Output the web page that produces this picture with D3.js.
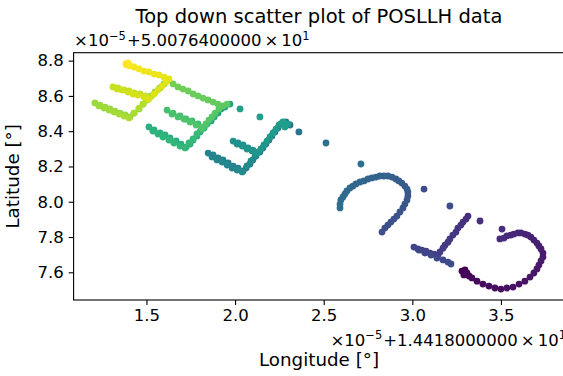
<!DOCTYPE html>
<html>
<head>
<meta charset="utf-8">
<script src="https://cdn.jsdelivr.net/npm/d3@7"></script>
<style>
  html, body { margin: 0; padding: 0; background: #fff; overflow: hidden; }
  svg { display: block; font-family: "DejaVu Sans", sans-serif; }
</style>
</head>
<body>
<svg id="chart" width="563" height="376"></svg>
<script>
// POSLLH track, values in units of 1e-5 degree relative to the base coordinates.
// Each array is one stretch of the walk, listed in time order.
const lonBase = "1.4418000000";   // x 10^1
const latBase = "5.0076400000";   // x 10^1

const loopG = [
  [3.280,7.607],[3.297,7.613],[3.308,7.596],[3.291,7.585],[3.320,7.579],[3.336,7.568],
  [3.365,7.550],[3.398,7.533],[3.432,7.522],[3.466,7.511],[3.500,7.505],[3.534,7.511],
  [3.568,7.516],[3.602,7.533],[3.635,7.550],[3.664,7.573],[3.686,7.596],[3.703,7.619],
  [3.714,7.641],[3.726,7.664],[3.737,7.687],[3.737,7.709],[3.726,7.732],[3.714,7.749],
  [3.703,7.766],[3.686,7.783],[3.669,7.800],[3.652,7.811],[3.635,7.817],[3.613,7.823],
  [3.596,7.823],[3.573,7.817],[3.556,7.811],[3.534,7.806],[3.517,7.794],[3.494,7.789]
];
const gapA = [[3.506,7.845],[3.382,7.891]];
const stemT = [
  [3.314,7.919],[3.303,7.902],[3.286,7.885],[3.274,7.868],[3.257,7.851],[3.246,7.828],
  [3.229,7.811],[3.212,7.789],[3.201,7.771],[3.184,7.754],[3.173,7.737],[3.156,7.715],
  [3.145,7.698]
];
const barT = [
  [3.122,7.703],[3.099,7.709],[3.077,7.720],[3.054,7.726],[3.032,7.732],[3.009,7.743],
  [3.037,7.726],[3.071,7.709],[3.105,7.698],[3.139,7.681],[3.173,7.670],[3.201,7.658],
  [3.218,7.647]
];
const gapB = [[3.212,7.976],[3.066,8.072]];
const arcC = [
  [2.829,7.828],[2.845,7.851],[2.862,7.868],[2.879,7.885],[2.896,7.902],[2.913,7.919],
  [2.930,7.942],[2.947,7.965],[2.958,7.987],[2.970,8.010],[2.975,8.033],[2.975,8.055],
  [2.970,8.072],[2.958,8.089],[2.941,8.106],[2.924,8.118],[2.907,8.129],[2.885,8.140],
  [2.862,8.146],[2.840,8.146],[2.817,8.146],[2.795,8.140],[2.772,8.135],[2.750,8.129],
  [2.727,8.118],[2.705,8.112],[2.682,8.101],[2.665,8.089],[2.648,8.078],[2.631,8.061],
  [2.620,8.044],[2.609,8.027],[2.597,8.010],[2.592,7.987],[2.592,7.965]
];
const gapC = [[2.710,8.214],[2.513,8.333],[2.360,8.396]];
const forkThree = [
  [2.310,8.435],[2.287,8.452],[2.259,8.441],
  [2.242,8.418],[2.225,8.396],[2.208,8.373],[2.191,8.350],[2.174,8.327],[2.157,8.305],
  [2.140,8.282],[2.118,8.259],[2.101,8.237],[2.084,8.214],[2.062,8.191],[2.045,8.174],
  [2.017,8.191],[1.989,8.202],[1.961,8.220],[1.932,8.237],[1.904,8.248],[1.876,8.265],[1.848,8.276],
  [1.870,8.254],[1.898,8.237],[1.927,8.225],[1.955,8.208],[1.983,8.191],[2.011,8.180],[2.040,8.169],
  [2.067,8.203],[2.090,8.231],[2.113,8.259],[2.130,8.282],
  [2.101,8.293],[2.073,8.305],[2.045,8.322],[2.017,8.333],[1.989,8.344],
  [2.011,8.327],[2.040,8.316],[2.067,8.299],[2.096,8.288],[2.124,8.276],
  [2.146,8.299],[2.163,8.322],[2.180,8.344],[2.197,8.367],[2.214,8.390],[2.231,8.412],
  [2.248,8.435],[2.270,8.452],[2.298,8.441],[2.281,8.424]
];
const gapD = [[2.140,8.481],[2.028,8.526]];
const forkTwo = [
  [1.971,8.554],[1.943,8.537],[1.921,8.526],
  [1.904,8.503],[1.882,8.481],[1.865,8.458],[1.842,8.441],[1.825,8.418],[1.802,8.396],
  [1.785,8.373],[1.763,8.350],[1.746,8.327],[1.724,8.310],
  [1.695,8.327],[1.667,8.345],[1.633,8.362],[1.605,8.379],[1.577,8.390],[1.543,8.407],[1.514,8.424],
  [1.536,8.401],[1.565,8.384],[1.593,8.367],[1.627,8.350],[1.655,8.333],[1.689,8.316],[1.718,8.305],
  [1.740,8.333],[1.763,8.356],[1.785,8.384],[1.808,8.407],[1.825,8.424],
  [1.791,8.441],[1.757,8.458],[1.723,8.469],[1.689,8.486],[1.650,8.503],[1.616,8.520],
  [1.644,8.497],[1.678,8.481],[1.712,8.469],[1.746,8.452],[1.780,8.435],[1.813,8.418],
  [1.836,8.441],[1.853,8.463],[1.870,8.481],[1.887,8.503],[1.909,8.526],[1.932,8.543],[1.955,8.554]
];
const gapE = [
  [1.903,8.554],[1.876,8.565],[1.847,8.577],[1.819,8.588],[1.791,8.600],
  [1.763,8.611],[1.735,8.628],[1.706,8.639],[1.678,8.651],[1.650,8.668]
];
const forkOne = [
  [1.621,8.690],
  [1.599,8.668],[1.576,8.645],[1.548,8.622],[1.526,8.600],[1.503,8.577],[1.481,8.554],
  [1.458,8.526],[1.430,8.503],[1.407,8.481],
  [1.379,8.492],[1.351,8.503],[1.322,8.514],[1.294,8.526],[1.266,8.537],[1.238,8.548],[1.209,8.560],
  [1.232,8.543],[1.260,8.531],[1.289,8.520],[1.317,8.509],[1.345,8.497],[1.373,8.486],[1.401,8.475],
  [1.430,8.503],[1.458,8.531],[1.481,8.554],[1.503,8.577],[1.520,8.594],
  [1.492,8.600],[1.463,8.611],[1.430,8.617],[1.401,8.628],[1.373,8.634],[1.339,8.645],[1.311,8.651],
  [1.334,8.639],[1.362,8.634],[1.396,8.622],[1.424,8.611],[1.452,8.605],[1.486,8.594],[1.514,8.583],
  [1.543,8.611],[1.565,8.634],[1.588,8.656],[1.610,8.679],[1.627,8.696],
  [1.599,8.707],[1.571,8.719],[1.543,8.724],[1.514,8.736],[1.486,8.741],[1.458,8.753],
  [1.430,8.764],[1.407,8.770],[1.390,8.775],[1.384,8.781],[1.396,8.787]
];

const xTicks = [1.5, 2.0, 2.5, 3.0, 3.5];
const yTicks = [7.6, 7.8, 8.0, 8.2, 8.4, 8.6, 8.8];
const titleText = "Top down scatter plot of POSLLH data";
const xLabel = "Longitude [°]";
const yLabel = "Latitude [°]";

const track = [].concat(loopG, gapA, stemT, barT, gapB, arcC, gapC,
                        forkThree, gapD, forkTwo, gapE, forkOne);

// Layout
const svg = d3.select("#chart");
const box = { left: 73.6, right: 564.4, top: 52.7, bottom: 300 };
const x = d3.scaleLinear().domain([1.089, 3.858]).range([box.left, box.right]);
const y = d3.scaleLinear().domain([7.443, 8.845]).range([box.bottom, box.top]);
const color = d3.scaleSequential(d3.interpolateViridis).domain([0, track.length - 1]);

// Points, colored by sample index
svg.append("g")
  .selectAll("circle")
  .data(track)
  .join("circle")
  .attr("cx", d => x(d[0]))
  .attr("cy", d => y(d[1]))
  .attr("r", 3.4)
  .attr("fill", (d, i) => color(i));

// Axes
const tickFont = 16.5;
const xAxis = svg.append("g")
  .attr("transform", `translate(0,${box.bottom})`)
  .call(d3.axisBottom(x).tickValues(xTicks).tickFormat(d3.format(".1f"))
        .tickSize(4.9).tickPadding(4.5));
const yAxis = svg.append("g")
  .attr("transform", `translate(${box.left},0)`)
  .call(d3.axisLeft(y).tickValues(yTicks).tickFormat(d3.format(".1f"))
        .tickSize(4.9).tickPadding(4.9));
[xAxis, yAxis].forEach(g => {
  g.select(".domain").remove();
  g.selectAll("line").attr("stroke", "#000").attr("stroke-width", 1.1);
  g.selectAll("text").attr("fill", "#000").style("font-size", tickFont + "px")
    .style("font-family", "DejaVu Sans, sans-serif");
});

// Frame
svg.append("rect")
  .attr("x", box.left).attr("y", box.top)
  .attr("width", box.right - box.left).attr("height", box.bottom - box.top)
  .attr("fill", "none").attr("stroke", "#000").attr("stroke-width", 1.1);

// Offset notation text: ×10^-5 + base ×10^1
function offsetText(sel, base) {
  const sup = 11.5;
  sel.style("font-size", tickFont + "px").attr("fill", "#000");
  sel.append("tspan").text("×10");
  sel.append("tspan").attr("dy", -6.5).style("font-size", sup + "px").text("−5");
  sel.append("tspan").attr("dy", 6.5).attr("dx", 1).text("+" + base);
  sel.append("tspan").attr("dx", 3).text("×");
  sel.append("tspan").attr("dx", 3).text("10");
  sel.append("tspan").attr("dy", -6.5).style("font-size", sup + "px").text("1");
}
svg.append("text").attr("x", box.left + 0.5).attr("y", 46)
  .call(offsetText, latBase);
svg.append("text").attr("x", 566).attr("y", 345.5).attr("text-anchor", "end")
  .call(offsetText, lonBase);

// Titles
svg.append("text")
  .attr("x", (box.left + box.right) / 2).attr("y", 23)
  .attr("text-anchor", "middle").style("font-size", "19.5px").attr("fill", "#000")
  .text(titleText);
svg.append("text")
  .attr("x", (box.left + box.right) / 2).attr("y", 366)
  .attr("text-anchor", "middle").style("font-size", "18.3px").attr("fill", "#000")
  .text(xLabel);
svg.append("text")
  .attr("transform", `translate(19,${(box.top + box.bottom) / 2}) rotate(-90)`)
  .attr("text-anchor", "middle").style("font-size", "18.3px").attr("fill", "#000")
  .text(yLabel);
</script>
</body>
</html>
